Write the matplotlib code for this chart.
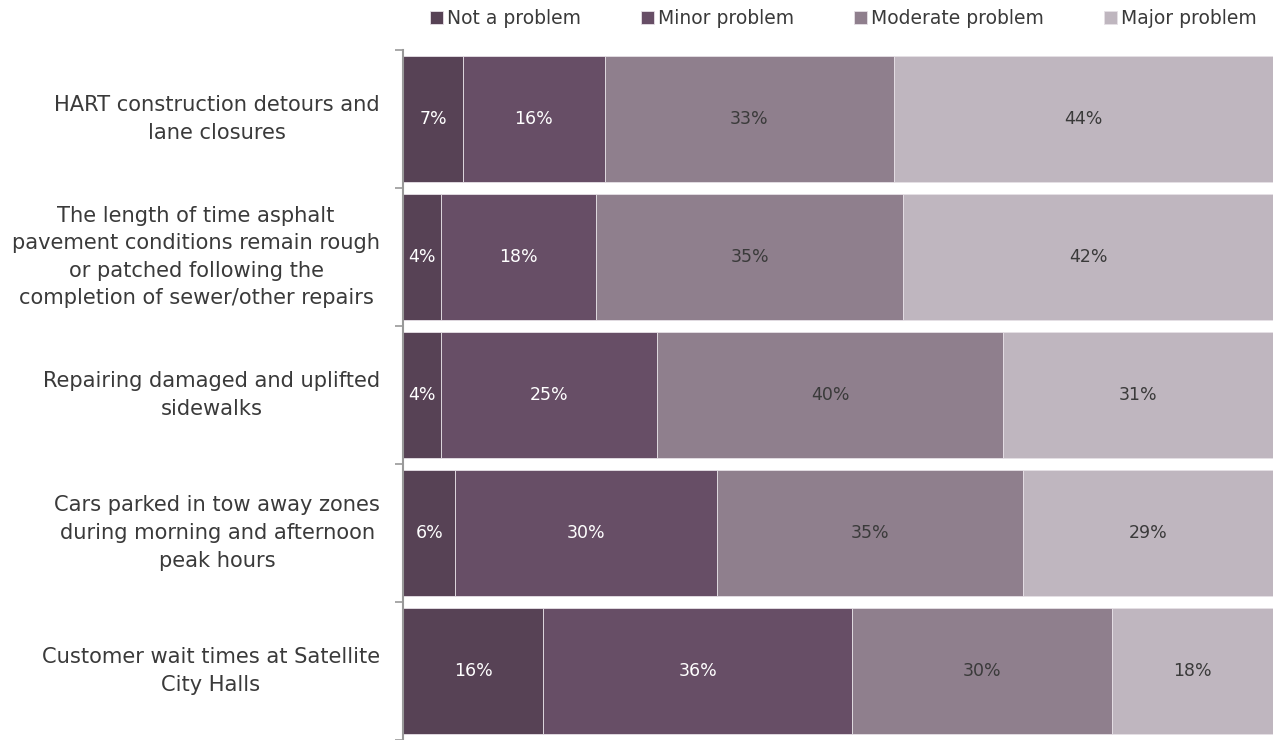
import numpy as np
import matplotlib
matplotlib.use("Agg")
import matplotlib.pyplot as plt

# Survey items (top to bottom)
categories = [
    "HART construction detours and\nlane closures",
    "The length of time asphalt\npavement conditions remain rough\nor patched following the\ncompletion of sewer/other repairs",
    "Repairing damaged and uplifted\nsidewalks",
    "Cars parked in tow away zones\nduring morning and afternoon\npeak hours",
    "Customer wait times at Satellite\nCity Halls",
]
series_names = ["Not a problem", "Minor problem", "Moderate problem", "Major problem"]

# share of respondents (%) per series
not_a_problem = [6.9, 4.4, 4.4, 6.0, 16.1]
minor_problem = [16.3, 17.8, 24.8, 30.1, 35.5]
moderate_problem = [33.2, 35.3, 39.8, 35.1, 29.9]
major_problem = [43.6, 42.5, 31.0, 28.9, 18.5]

# printed labels
not_a_problem_lbl = ["7%", "4%", "4%", "6%", "16%"]
minor_problem_lbl = ["16%", "18%", "25%", "30%", "36%"]
moderate_problem_lbl = ["33%", "35%", "40%", "35%", "30%"]
major_problem_lbl = ["44%", "42%", "31%", "29%", "18%"]

colors = ["#574255", "#674e66", "#8f7f8d", "#bfb6bf"]
text_colors = ["white", "white", "#3a3a3a", "#3a3a3a"]
text_dark = "#3a3a3a"

series = [not_a_problem, minor_problem, moderate_problem, major_problem]
labels = [not_a_problem_lbl, minor_problem_lbl, moderate_problem_lbl, major_problem_lbl]

plt.rcParams["font.family"] = ["DejaVu Sans"]

fig = plt.figure(figsize=(12.77, 7.40), dpi=100)
ax = fig.add_axes([0.3156, 0.0, 0.6814, 0.9324])

y = np.arange(len(categories))
left = np.zeros(len(categories))
for vals, lbls, col, tcol, name in zip(series, labels, colors, text_colors, series_names):
    vals = np.array(vals)
    ax.barh(y, vals, left=left, height=0.91, color=col, edgecolor="#e6e0e6",
            linewidth=0.6, label=name)
    for yi, (v, l, lb) in enumerate(zip(vals, left, lbls)):
        ax.text(l + v / 2, yi, lb, ha="center", va="center", color=tcol, fontsize=12.5)
    left = left + vals

ax.set_xlim(0, 100)
ax.set_ylim(len(categories) - 0.5, -0.5)

# category labels: block right-aligned near the axis, lines centred
for yi, cat in enumerate(categories):
    ax.text(-0.0264, yi, cat, ha="right", va="center", multialignment="center",
            fontsize=15.1, color=text_dark, transform=ax.get_yaxis_transform(),
            linespacing=1.47)
ax.set_yticks(np.arange(len(categories) + 1) - 0.5)
ax.set_yticklabels([])
ax.tick_params(axis="y", length=6, color="#999999", width=1.2)
ax.set_xticks([])

for s in ["top", "right", "bottom"]:
    ax.spines[s].set_visible(False)
ax.spines["left"].set_color("#999999")
ax.spines["left"].set_linewidth(1.5)

fig.legend(loc="upper right", bbox_to_anchor=(0.997, 1.01), ncol=4, frameon=False,
           fontsize=13.5, handlelength=0.7, handleheight=0.7, handletextpad=0.2,
           columnspacing=3.2, labelcolor=text_dark)

fig.savefig("out.png", dpi=100)
